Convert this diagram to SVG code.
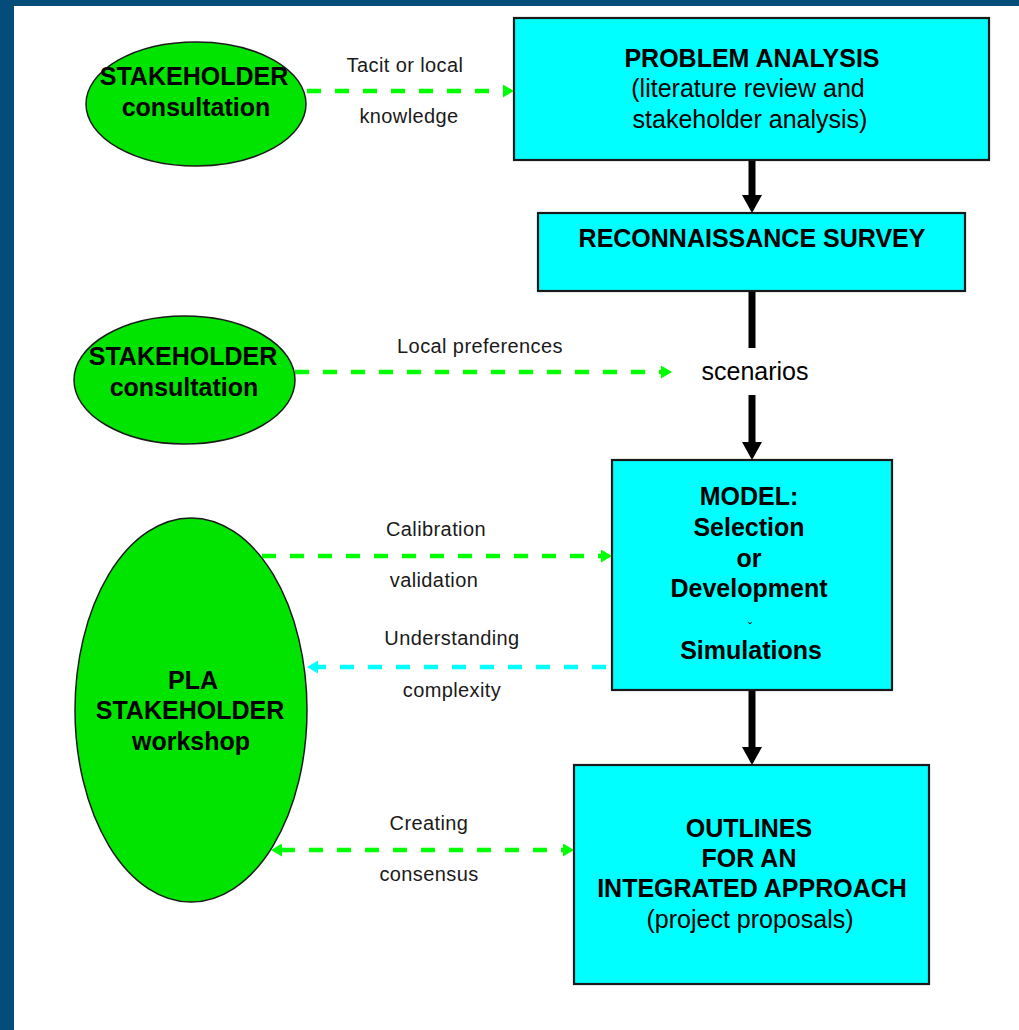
<svg xmlns="http://www.w3.org/2000/svg" width="1019" height="1030" viewBox="0 0 1019 1030">
<style>
.bg{fill:#ffffff}
.frame{fill:#044d7a}
.box{fill:#00ffff;stroke:#1a1a1a;stroke-width:2.2}
.ell{fill:#00e400;stroke:#1a1a1a;stroke-width:1.5}
.t{font-family:"Liberation Sans",Arial,sans-serif;font-size:25px;fill:#000;text-anchor:middle}
.b{font-weight:bold}
.lbl{font-family:"Liberation Sans",Arial,sans-serif;font-size:20px;fill:#1a1a1a;text-anchor:middle;letter-spacing:0.4px}
.blk{stroke:#000;stroke-width:7;fill:none}
.gd{stroke:#00ff00;stroke-width:4.5;stroke-dasharray:14 14;fill:none}
.cd{stroke:#00ffff;stroke-width:4.5;stroke-dasharray:14 14;fill:none}
</style>
<defs>
<marker id="hb" markerUnits="userSpaceOnUse" viewBox="0 0 18 20" refX="1" refY="10" markerWidth="18" markerHeight="20" orient="auto">
<path d="M0,0 L18,10 L0,20 z" fill="#000"/>
</marker>
<marker id="hg" markerUnits="userSpaceOnUse" viewBox="0 0 11 13" refX="1" refY="6.5" markerWidth="11" markerHeight="13" orient="auto-start-reverse">
<path d="M0,0 L11,6.5 L0,13 z" fill="#00ff00"/>
</marker>
<marker id="hc" markerUnits="userSpaceOnUse" viewBox="0 0 11 13" refX="1" refY="6.5" markerWidth="11" markerHeight="13" orient="auto">
<path d="M0,0 L11,6.5 L0,13 z" fill="#00ffff"/>
</marker>
</defs>
<rect class="bg" x="0" y="0" width="1019" height="1030"/>
<rect class="frame" x="0" y="0" width="1019" height="6"/>
<rect class="frame" x="0" y="0" width="14" height="1030"/>

<g id="connectors">
<line class="blk" x1="752" y1="160" x2="752" y2="196" marker-end="url(#hb)"/>
<line class="blk" x1="752" y1="292" x2="752" y2="348"/>
<line class="blk" x1="752" y1="395" x2="752" y2="443" marker-end="url(#hb)"/>
<line class="blk" x1="752" y1="690" x2="752" y2="748" marker-end="url(#hb)"/>
<line class="gd" x1="307" y1="91" x2="504" y2="91" marker-end="url(#hg)"/>
<line class="gd" x1="295" y1="372" x2="662" y2="372" marker-end="url(#hg)"/>
<line class="gd" x1="262" y1="556" x2="602" y2="556" marker-end="url(#hg)"/>
<line class="cd" x1="606" y1="667" x2="317" y2="667" marker-end="url(#hc)"/>
<line class="gd" x1="281" y1="850" x2="564" y2="850" marker-start="url(#hg)" marker-end="url(#hg)"/>
<text class="lbl" x="405" y="72">Tacit or local</text>
<text class="lbl" x="409" y="123">knowledge</text>
<text class="lbl" x="480" y="353">Local preferences</text>
<text class="lbl" x="436" y="536">Calibration</text>
<text class="lbl" x="434" y="587">validation</text>
<text class="lbl" x="452" y="645">Understanding</text>
<text class="lbl" x="452" y="697">complexity</text>
<text class="lbl" x="429" y="830">Creating</text>
<text class="lbl" x="429" y="881">consensus</text>
<text class="t" x="755" y="380">scenarios</text>
</g>

<g id="stakeholder1">
<ellipse class="ell" cx="196" cy="104" rx="110" ry="62"/>
<text class="t b" x="194" y="85">STAKEHOLDER</text>
<text class="t b" x="196" y="116">consultation</text>
</g>

<g id="stakeholder2">
<ellipse class="ell" cx="184.5" cy="380" rx="110.5" ry="64"/>
<text class="t b" x="183" y="365">STAKEHOLDER</text>
<text class="t b" x="184" y="396">consultation</text>
</g>

<g id="workshop">
<ellipse class="ell" cx="191" cy="710" rx="116" ry="192"/>
<text class="t b" x="193" y="689">PLA</text>
<text class="t b" x="190" y="719">STAKEHOLDER</text>
<text class="t b" x="191" y="750">workshop</text>
</g>

<g id="problem-analysis">
<rect class="box" x="514" y="18" width="475" height="142"/>
<text class="t b" x="752" y="67">PROBLEM ANALYSIS</text>
<text class="t" x="748" y="97">(literature review and</text>
<text class="t" x="750" y="128">stakeholder analysis)</text>
</g>

<g id="reconnaissance">
<rect class="box" x="538" y="213" width="427" height="78"/>
<text class="t b" x="752" y="247">RECONNAISSANCE SURVEY</text>
</g>

<g id="model">
<rect class="box" x="612" y="460" width="280" height="230"/>
<text class="t b" x="749" y="505">MODEL:</text>
<text class="t b" x="749" y="536">Selection</text>
<text class="t b" x="749" y="567">or</text>
<text class="t b" x="749" y="597">Development</text>
<text class="t" x="750" y="632" style="font-size:12px">ˇ</text>
<text class="t b" x="751" y="659">Simulations</text>
</g>

<g id="outlines">
<rect class="box" x="574" y="765" width="355" height="219"/>
<text class="t b" x="749" y="837">OUTLINES</text>
<text class="t b" x="749" y="867">FOR AN</text>
<text class="t b" x="752" y="897">INTEGRATED APPROACH</text>
<text class="t" x="750" y="928">(project proposals)</text>
</g>
</svg>
